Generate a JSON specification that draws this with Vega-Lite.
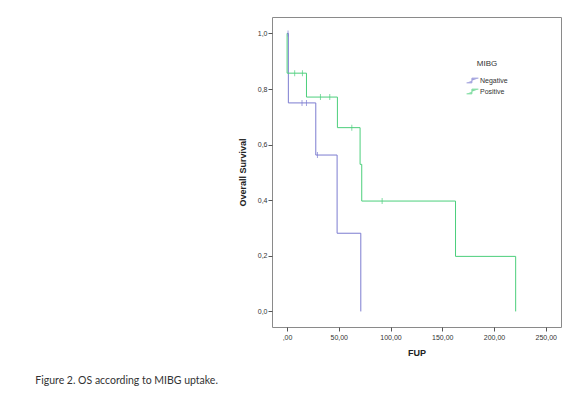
{
  "$schema": "https://vega.github.io/schema/vega-lite/v6.json",
  "autosize": "none",
  "width": 289,
  "height": 310,
  "padding": {"left": 272, "top": 17, "right": 23, "bottom": 70},
  "background": "white",
  "config": {
    "view": {"stroke": "#8a8a8a", "strokeWidth": 1},
    "font": "Liberation Sans"
  },
  "title": {
    "text": "Figure 2. OS according to MIBG uptake.",
    "orient": "bottom",
    "anchor": "start",
    "dx": -203,
    "offset": 19,
    "font": "Lato",
    "fontSize": 10.5,
    "fontWeight": "normal",
    "color": "#333333"
  },
  "datasets": {
    "curves": [
      {"group": "Negative", "t": 0, "s": 1.0, "order": 0},
      {"group": "Negative", "t": 1.3, "s": 0.75, "order": 1},
      {"group": "Negative", "t": 27.8, "s": 0.5625, "order": 2},
      {"group": "Negative", "t": 48.4, "s": 0.28125, "order": 3},
      {"group": "Negative", "t": 71.3, "s": 0.0, "order": 4},
      {"group": "Positive", "t": 0, "s": 1.0, "order": 0},
      {"group": "Positive", "t": 0.1, "s": 0.857, "order": 1},
      {"group": "Positive", "t": 18.8, "s": 0.771, "order": 2},
      {"group": "Positive", "t": 48.7, "s": 0.661, "order": 3},
      {"group": "Positive", "t": 70.6, "s": 0.529, "order": 4},
      {"group": "Positive", "t": 72.2, "s": 0.397, "order": 5},
      {"group": "Positive", "t": 162.8, "s": 0.198, "order": 6},
      {"group": "Positive", "t": 220.9, "s": 0.0, "order": 7}
    ],
    "censored": [
      {"group": "Negative", "t": 1.0, "s": 1.0},
      {"group": "Negative", "t": 14.5, "s": 0.75},
      {"group": "Negative", "t": 18.8, "s": 0.75},
      {"group": "Negative", "t": 29.4, "s": 0.5625},
      {"group": "Positive", "t": 7.4, "s": 0.857},
      {"group": "Positive", "t": 14.9, "s": 0.857},
      {"group": "Positive", "t": 32.3, "s": 0.771},
      {"group": "Positive", "t": 41.3, "s": 0.771},
      {"group": "Positive", "t": 62.6, "s": 0.661},
      {"group": "Positive", "t": 91.9, "s": 0.397}
    ]
  },
  "encoding": {
    "x": {
      "field": "t",
      "type": "quantitative",
      "scale": {"domain": [-14.5, 264.7], "nice": false, "zero": false},
      "axis": {
        "title": "FUP",
        "values": [0, 50, 100, 150, 200, 250],
        "labelExpr": "datum.value == 0 ? ',00' : replace(format(datum.value, '.2f'), '.', ',')",
        "domain": false,
        "grid": false,
        "tickColor": "#555555",
        "tickSize": 4,
        "labelFontSize": 7,
        "labelColor": "#333333",
        "labelPadding": 2,
        "titleFontSize": 9,
        "titleFontWeight": "bold",
        "titleColor": "#222222",
        "titlePadding": 8
      }
    },
    "y": {
      "field": "s",
      "type": "quantitative",
      "scale": {"domain": [-0.056, 1.059], "nice": false, "zero": false},
      "axis": {
        "title": "Overall Survival",
        "values": [0, 0.2, 0.4, 0.6, 0.8, 1.0],
        "labelExpr": "replace(format(datum.value, '.1f'), '.', ',')",
        "domain": false,
        "grid": false,
        "tickColor": "#555555",
        "tickSize": 4,
        "labelFontSize": 7,
        "labelColor": "#333333",
        "labelPadding": 1,
        "titleFontSize": 9,
        "titleFontWeight": "bold",
        "titleColor": "#222222",
        "titlePadding": 10
      }
    },
    "color": {
      "field": "group",
      "type": "nominal",
      "scale": {"domain": ["Negative", "Positive"], "range": ["#7c7cd0", "#4ccf7c"]},
      "legend": {
        "title": "MIBG",
        "orient": "none",
        "legendX": 194,
        "legendY": 43,
        "titleFontSize": 8,
        "titleFontWeight": "normal",
        "titleColor": "#333333",
        "titleAnchor": "middle",
        "titlePadding": 6,
        "labelFontSize": 7,
        "labelColor": "#333333",
        "labelOffset": 1,
        "symbolType": "M-1,0.4L-0.1,0.4L-0.1,-0.4L1,-0.4",
        "symbolSize": 140,
        "symbolStrokeWidth": 1,
        "symbolFillColor": "transparent",
        "rowPadding": 0,
        "symbolOffset": 0
      }
    }
  },
  "layer": [
    {
      "data": {"name": "curves"},
      "mark": {"type": "line", "interpolate": "step-after", "strokeWidth": 1},
      "encoding": {"order": {"field": "order", "type": "quantitative"}}
    },
    {
      "data": {"name": "censored"},
      "mark": {"type": "tick", "orient": "vertical", "size": 6, "thickness": 1},
      "encoding": {}
    }
  ]
}
